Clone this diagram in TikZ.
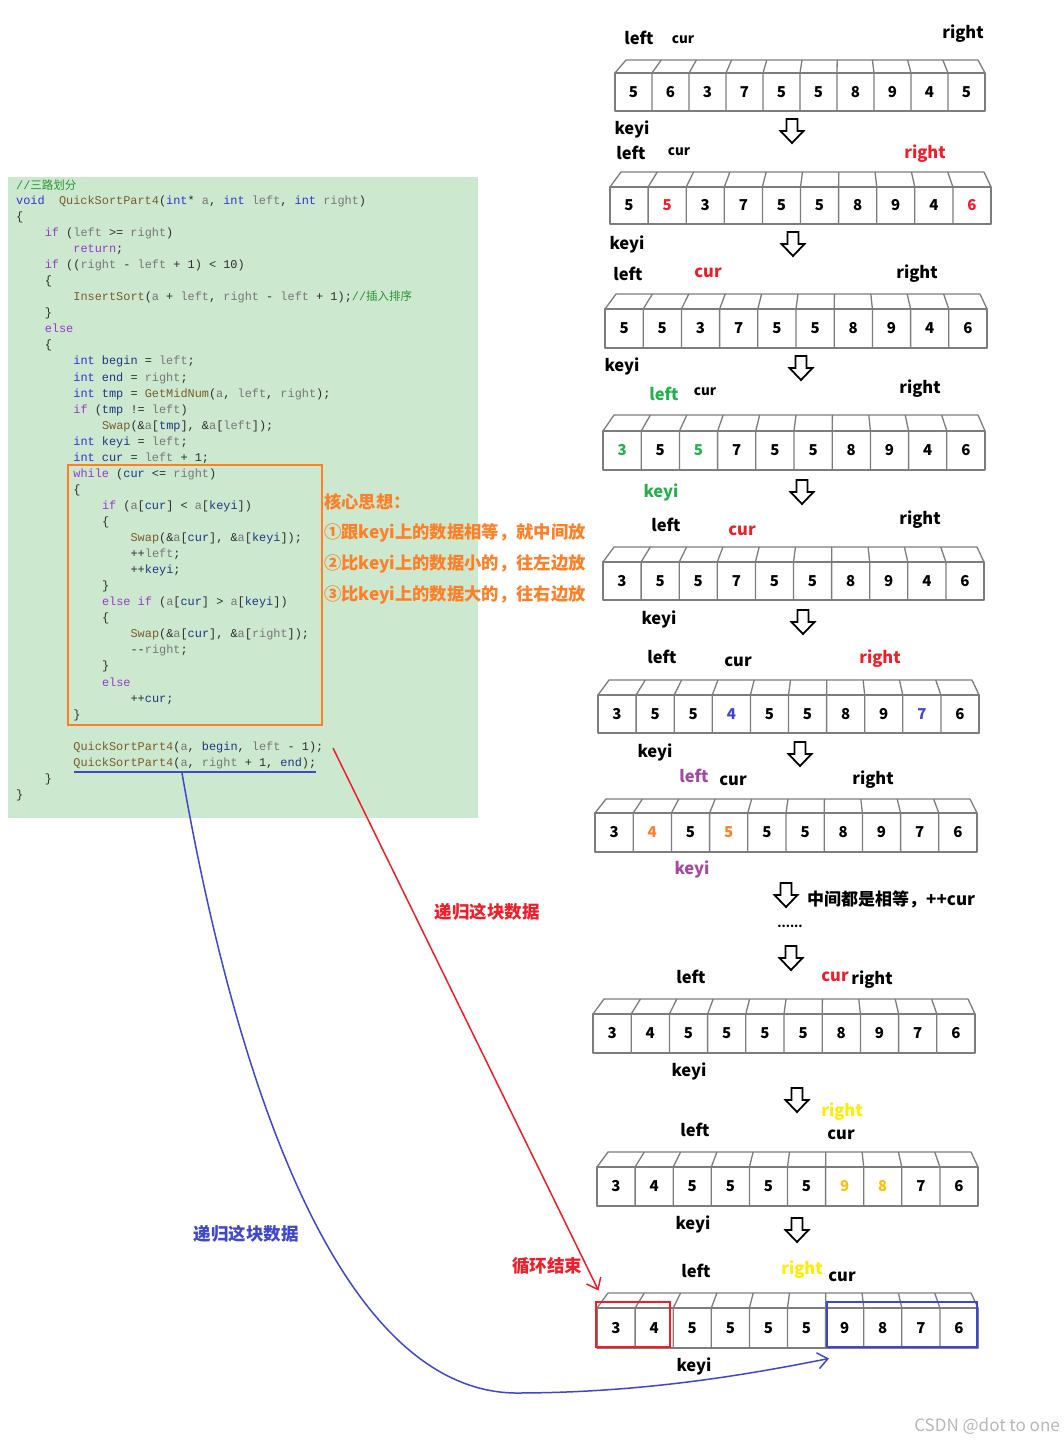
\documentclass[tikz,border=0pt]{standalone}
\usepackage{fontspec}
\usetikzlibrary{arrows.meta}
\newfontfamily\cjk{Noto Sans CJK SC}
\newfontfamily\codef{Liberation Mono}
\definecolor{codebg}{RGB}{204,232,207}
\definecolor{codetext}{RGB}{45,45,45}
\definecolor{ckw}{RGB}{51,51,214}
\definecolor{cctl}{RGB}{150,60,200}
\definecolor{cfn}{RGB}{120,95,45}
\definecolor{cpar}{RGB}{120,120,120}
\definecolor{cvar}{RGB}{31,55,127}
\definecolor{ccom}{RGB}{40,150,50}
\definecolor{myred}{RGB}{240,30,40}
\definecolor{mygreen}{RGB}{34,177,76}
\definecolor{myblue}{RGB}{63,72,204}
\definecolor{mypurple}{RGB}{163,73,164}
\definecolor{myorange}{RGB}{255,127,39}
\definecolor{myyellow}{RGB}{255,236,0}
\definecolor{mygold}{RGB}{255,190,14}
\definecolor{cellgray}{RGB}{125,125,125}
\newcommand\cdK[1]{\textcolor{ckw}{#1}}
\newcommand\cdC[1]{\textcolor{cctl}{#1}}
\newcommand\cdF[1]{\textcolor{cfn}{#1}}
\newcommand\cdP[1]{\textcolor{cpar}{#1}}
\newcommand\cdV[1]{\textcolor{cvar}{#1}}
\newcommand\cdM[1]{\textcolor{ccom}{#1}}
\newcommand\cjkc{\cjk\fontsize{11.5}{14}\selectfont}
\tikzset{
  codeline/.style={anchor=mid west, inner sep=0pt, text=codetext, font=\codef\fontsize{11.9}{14}\selectfont},
  lbl/.style={inner sep=0pt, font=\cjk\bfseries\fontsize{16.5}{18}\selectfont},
  slbl/.style={inner sep=0pt, font=\cjk\bfseries\fontsize{13.5}{15}\selectfont},
  num/.style={inner sep=0pt, font=\cjk\bfseries\fontsize{15}{17}\selectfont},
  coretext/.style={anchor=west, inner sep=0pt, text=myorange, font=\cjk\bfseries\fontsize{17.3}{19}\selectfont},
  cnlabel/.style={inner sep=0pt, font=\cjk\bfseries\fontsize{17.5}{19}\selectfont},
  cellline/.style={draw=cellgray, line width=1.3pt, line join=round},
  downarr/.pic={\draw[line width=1.8pt, fill=white, line join=miter] (-5.5,-12) -- (5.5,-12) -- (5.5,0) -- (11.5,0) -- (0,12) -- (-11.5,0) -- (-5.5,0) -- cycle;}
}
% id, x0, x1, yback, ytop, ybot, values
\newcommand\arrayrow[7]{%
  \pgfmathsetmacro\cellw{(#3-#2)/10}%
  \pgfmathsetmacro\backl{#2+11}%
  \pgfmathsetmacro\backr{#3-7}%
  \pgfmathsetmacro\backw{(\backr-\backl)/10}%
  \draw[cellline] (#2,#5) -- (\backl,#4) -- (\backr,#4) -- (#3,#5);
  \draw[cellline] (#2,#5) rectangle (#3,#6);
  \foreach \i in {1,...,9} {\draw[cellline] ({#2+\i*\cellw},#6) -- ({#2+\i*\cellw},#5) -- ({\backl+\i*\backw},#4);}
  \foreach \val [count=\i] in {#7} {\node[num] (#1c\i) at ({#2+\i*\cellw-\cellw/2},{(#5+#6)/2}) {\val};}
}
\begin{document}
\begin{tikzpicture}[x=1pt,y=-1pt]
\useasboundingbox (0,0) rectangle (1064,1443);
\fill[white] (0,0) rectangle (1064,1443);
% code area
\fill[codebg] (8,177) rectangle (478,818);
\begin{scope}[yshift=-2pt]
\node[codeline] (cl1) at (16,185) {\cdM{//{\cjkc 三路划分}}};
\node[codeline] (cl2) at (16,200) {\cdK{void}~ \cdF{QuickSortPart4}(\cdK{int}* \cdP{a}, \cdK{int} \cdP{left}, \cdK{int} \cdP{right})};
\node[codeline] (cl3) at (16,216) {\{};
\node[codeline] (cl4) at (44.6,232) {\cdC{if} (\cdP{left} >= \cdP{right})};
\node[codeline] (cl5) at (73.2,248) {\cdC{return};};
\node[codeline] (cl6) at (44.6,264) {\cdC{if} ((\cdP{right} - \cdP{left} + 1) < 10)};
\node[codeline] (cl7) at (44.6,280) {\{};
\node[codeline] (cl8) at (73.2,296) {\cdF{InsertSort}(\cdP{a} + \cdP{left}, \cdP{right} - \cdP{left} + 1);\cdM{//{\cjkc 插入排序}}};
\node[codeline] (cl9) at (44.6,312) {\}};
\node[codeline] (cl10) at (44.6,328) {\cdC{else}};
\node[codeline] (cl11) at (44.6,344) {\{};
\node[codeline] (cl12) at (73.2,360) {\cdK{int} \cdV{begin} = \cdP{left};};
\node[codeline] (cl13) at (73.2,377) {\cdK{int} \cdV{end} = \cdP{right};};
\node[codeline] (cl14) at (73.2,393) {\cdK{int} \cdV{tmp} = \cdF{GetMidNum}(\cdP{a}, \cdP{left}, \cdP{right});};
\node[codeline] (cl15) at (73.2,409) {\cdC{if} (\cdV{tmp} != \cdP{left})};
\node[codeline] (cl16) at (101.8,425) {\cdF{Swap}(\&\cdP{a}[\cdV{tmp}], \&\cdP{a}[\cdP{left}]);};
\node[codeline] (cl17) at (73.2,441) {\cdK{int} \cdV{keyi} = \cdP{left};};
\node[codeline] (cl18) at (73.2,457) {\cdK{int} \cdV{cur} = \cdP{left} + 1;};
\node[codeline] (cl19) at (73.2,473) {\cdC{while} (\cdV{cur} <= \cdP{right})};
\node[codeline] (cl20) at (73.2,489) {\{};
\node[codeline] (cl21) at (101.8,505) {\cdC{if} (\cdP{a}[\cdV{cur}] < \cdP{a}[\cdV{keyi}])};
\node[codeline] (cl22) at (101.8,521) {\{};
\node[codeline] (cl23) at (130.4,537) {\cdF{Swap}(\&\cdP{a}[\cdV{cur}], \&\cdP{a}[\cdV{keyi}]);};
\node[codeline] (cl24) at (130.4,553) {++\cdP{left};};
\node[codeline] (cl25) at (130.4,569) {++\cdV{keyi};};
\node[codeline] (cl26) at (101.8,585) {\}};
\node[codeline] (cl27) at (101.8,601) {\cdC{else} \cdC{if} (\cdP{a}[\cdV{cur}] > \cdP{a}[\cdV{keyi}])};
\node[codeline] (cl28) at (101.8,617) {\{};
\node[codeline] (cl29) at (130.4,633) {\cdF{Swap}(\&\cdP{a}[\cdV{cur}], \&\cdP{a}[\cdP{right}]);};
\node[codeline] (cl30) at (130.4,649) {-{}-\cdP{right};};
\node[codeline] (cl31) at (101.8,665) {\}};
\node[codeline] (cl32) at (101.8,682) {\cdC{else}};
\node[codeline] (cl33) at (130.4,698) {++\cdV{cur};};
\node[codeline] (cl34) at (73.2,714) {\}};
\node[codeline] (cl35) at (73.2,746) {\cdF{QuickSortPart4}(\cdP{a}, \cdV{begin}, \cdP{left} - 1);};
\node[codeline] (cl36) at (73.2,762) {\cdF{QuickSortPart4}(\cdP{a}, \cdP{right} + 1, \cdV{end});};
\node[codeline] (cl37) at (44.6,778) {\}};
\node[codeline] (cl38) at (16,794) {\}};
\end{scope}
% orange loop box
\draw[myorange, line width=2pt] (68,465) rectangle (322,725);
% blue underline
\coordinate (ulA) at (74,772);
\coordinate (ulB) at (316,772);
\draw[myblue, line width=2pt] (ulA) -- (ulB);
% core idea text
\node[coretext] (core0) at (324,502) {核心思想：};
\node[coretext] (core1) at (324,533) {①跟keyi上的数据相等，就中间放};
\node[coretext] (core2) at (324,564) {②比keyi上的数据小的，往左边放};
\node[coretext] (core3) at (324,595) {③比keyi上的数据大的，往右边放};
% arrays
\arrayrow{r1}{615}{985}{60}{73}{111}{5,6,3,7,5,5,8,9,4,5}
\arrayrow{r2}{610}{991}{172}{187}{224}{5,\textcolor{myred}{5},3,7,5,5,8,9,4,\textcolor{myred}{6}}
\arrayrow{r3}{605}{987}{294}{309}{348}{5,5,3,7,5,5,8,9,4,6}
\arrayrow{r4}{603}{985}{415}{431}{470}{\textcolor{mygreen}{3},5,\textcolor{mygreen}{5},7,5,5,8,9,4,6}
\arrayrow{r5}{603}{984}{547}{562}{600}{3,5,5,7,5,5,8,9,4,6}
\arrayrow{r6}{598}{979}{680}{695}{733}{3,5,5,\textcolor{myblue}{4},5,5,8,9,\textcolor{myblue}{7},6}
\arrayrow{r7}{595}{977}{799}{813}{852}{3,\textcolor{myorange}{4},5,\textcolor{myorange}{5},5,5,8,9,7,6}
\arrayrow{r8}{593}{975}{999}{1014}{1053}{3,4,5,5,5,5,8,9,7,6}
\arrayrow{r9}{597}{978}{1152}{1167}{1206}{3,4,5,5,5,5,\textcolor{mygold}{9},\textcolor{mygold}{8},7,6}
\arrayrow{r10}{597}{978}{1293}{1308}{1348}{3,4,5,5,5,5,9,8,7,6}
% row labels
\node[lbl] (r1left) at (639,38) {left};
\node[slbl] (r1cur) at (683,40) {cur};
\node[lbl] (r1right) at (963,34) {right};
\node[lbl] (r1keyi) at (632,129) {keyi};
\pic (a1) at (792,131) {downarr};
\node[lbl] (r2left) at (631,153) {left};
\node[slbl] (r2cur) at (679,152) {cur};
\node[lbl, text=myred] (r2right) at (925,154) {right};
\node[lbl] (r2keyi) at (627,244) {keyi};
\pic (a2) at (793,244) {downarr};
\node[lbl] (r3left) at (628,274) {left};
\node[lbl, text=myred] (r3cur) at (708,273) {cur};
\node[lbl] (r3right) at (917,274) {right};
\node[lbl] (r3keyi) at (622,366) {keyi};
\pic (a3) at (801,368) {downarr};
\node[lbl, text=mygreen] (r4left) at (664,394) {left};
\node[slbl] (r4cur) at (705,392) {cur};
\node[lbl] (r4right) at (920,389) {right};
\node[lbl, text=mygreen] (r4keyi) at (661,492) {keyi};
\pic (a4) at (802,492) {downarr};
\node[lbl] (r5left) at (666,525) {left};
\node[lbl, text=myred] (r5cur) at (742,531) {cur};
\node[lbl] (r5right) at (920,520) {right};
\node[lbl] (r5keyi) at (659,619) {keyi};
\pic (a5) at (803,622) {downarr};
\node[lbl] (r6left) at (662,657) {left};
\node[lbl] (r6cur) at (738,662) {cur};
\node[lbl, text=myred] (r6right) at (880,659) {right};
\node[lbl] (r6keyi) at (655,752) {keyi};
\pic (a6) at (800,754) {downarr};
\node[lbl, text=mypurple] (r7left) at (694,776) {left};
\node[lbl] (r7cur) at (733,781) {cur};
\node[lbl] (r7right) at (873,780) {right};
\node[lbl, text=mypurple] (r7keyi) at (692,869) {keyi};
\pic (a7) at (786,895) {downarr};
\node[lbl, anchor=west, font=\cjk\bfseries\fontsize{17}{19}\selectfont] (note) at (807,899) {中间都是相等，++cur};
\node[inner sep=0pt, font=\cjk\bfseries\fontsize{12}{14}\selectfont] (dots) at (790,926) {......};
\pic (a8) at (791,958) {downarr};
\node[lbl] (r8left) at (691,977) {left};
\node[lbl, text=myred] (r8cur) at (835,977) {cur};
\node[lbl] (r8right) at (872,980) {right};
\node[lbl] (r8keyi) at (689,1071) {keyi};
\pic (a9) at (797,1100) {downarr};
\node[lbl, text=myyellow] (r9right) at (842,1112) {right};
\node[lbl] (r9left) at (695,1130) {left};
\node[lbl] (r9cur) at (841,1135) {cur};
\node[lbl] (r9keyi) at (693,1224) {keyi};
\pic (a10) at (797,1230) {downarr};
\node[lbl] (r10left) at (696,1271) {left};
\node[lbl, text=myyellow] (r10right) at (802,1270) {right};
\node[lbl] (r10cur) at (842,1277) {cur};
\node[lbl] (r10keyi) at (694,1366) {keyi};
% partition boxes
\node[draw=myred, line width=2pt, minimum width=74pt, minimum height=45pt, inner sep=0pt] (redbox) at (632.5,1324) {};
\node[draw=myblue, line width=2pt, minimum width=150pt, minimum height=45pt, inner sep=0pt] (bluebox) at (902,1324) {};
% recursion arrows
\coordinate (redstart) at (333,748);
\draw[myred, line width=1.5pt, -{Straight Barb[length=10pt,width=16pt]}] (redstart) -- ([xshift=4pt,yshift=10pt]redbox.north west);
\coordinate (bluestart) at (182,773);
\draw[myblue, line width=1.5pt, -{Straight Barb[length=10pt,width=16pt]}] (bluestart) .. controls (230,1050) and (330,1390) .. (515,1393) .. controls (650,1393) and (760,1372) .. ([xshift=3pt,yshift=-11pt]bluebox.south west);
\node[cnlabel, text=myred] (redlbl) at (487,912) {递归这块数据};
\node[cnlabel, text=myred] (endlbl) at (547,1266) {循环结束};
\node[cnlabel, text=myblue] (bluelbl) at (246,1234) {递归这块数据};
% watermark
\node[anchor=east, inner sep=0pt, text=black!28, font=\cjk\fontsize{17}{19}\selectfont] (wm) at (1060,1426) {CSDN @dot to one};
\end{tikzpicture}
\end{document}
